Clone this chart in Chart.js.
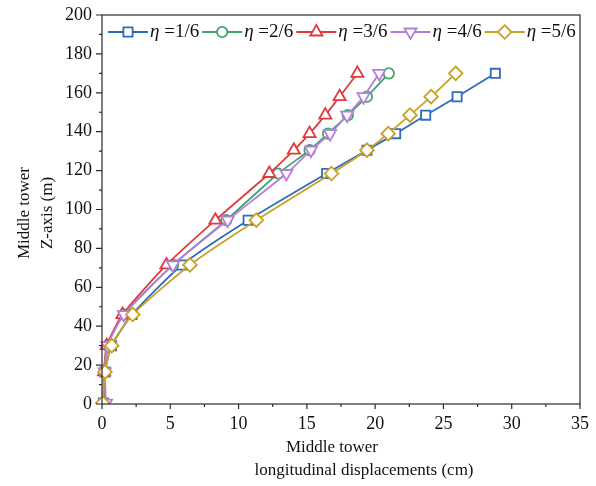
<!DOCTYPE html>
<html><head><meta charset="utf-8">
<script src="https://cdn.jsdelivr.net/npm/chart.js@4/dist/chart.umd.min.js"></script>
<style>html,body{margin:0;padding:0;background:#fff}#wrap{width:596px;height:486px;position:relative}</style>
</head><body><div id="wrap"><canvas id="c" width="596" height="486"></canvas></div>
<script>
// Heights along middle tower (m)
const zAxis = [0.5, 16.5, 30, 46, 71.5, 94.5, 118.5, 130.5, 139, 148.5, 158, 170];
// Longitudinal displacements (cm)
const eta16 = [0.1, 0.22, 0.7, 2.2, 5.85, 10.7, 16.45, 19.4, 21.5, 23.7, 26.0, 28.8];
const eta26 = [0.1, 0.2, 0.4, 1.6, 5.2, 9.1, 12.9, 15.2, 16.55, 18.0, 19.4, 21.0];
const eta36 = [0.1, 0.15, 0.35, 1.5, 4.72, 8.3, 12.25, 14.05, 15.2, 16.35, 17.4, 18.7];
const eta46 = [0.3, 0.2, 0.4, 1.6, 5.2, 9.2, 13.5, 15.3, 16.7, 17.95, 19.15, 20.3];
const eta56 = [0.05, 0.22, 0.71, 2.25, 6.44, 11.3, 16.8, 19.4, 20.96, 22.55, 24.1, 25.9];
const seriesNames = ['1/6', '2/6', '3/6', '4/6', '5/6'];
const seriesValues = [eta16, eta26, eta36, eta46, eta56];
const colors = ['#2f6db8', '#3fa56c', '#df3b3e', '#b47fdc', '#c9a125'];
const markers = ['rect', 'circle', 'triangle', 'triangle', 'rectRot'];
const rotations = [0, 0, 0, 180, 0];
const radii = [6.5, 5.2, 7, 7, 6.8];

const serif = '"Liberation Serif", "Times New Roman", serif';

const datasets = seriesValues.map((vals, i) => ({
  label: 'η =' + seriesNames[i],
  data: vals.map((x, k) => ({x: x, y: zAxis[k]})),
  order: seriesValues.length - 1 - i,
  showLine: true,
  borderColor: colors[i],
  borderWidth: 1.8,
  backgroundColor: '#ffffff',
  pointBackgroundColor: '#ffffff',
  pointBorderColor: colors[i],
  pointBorderWidth: 1.8,
  pointStyle: markers[i],
  pointRotation: rotations[i],
  pointRadius: radii[i],
  pointHoverRadius: radii[i],
  tension: 0.2,
  clip: { left: 10, top: 10, right: 10, bottom: 0 }
}));

function drawMarker(ctx, style, rot, r, x, y, color) {
  ctx.save();
  ctx.strokeStyle = color; ctx.fillStyle = '#fff'; ctx.lineWidth = 1.8;
  ctx.beginPath();
  if (style === 'rect') {
    const s = r * Math.SQRT1_2; ctx.rect(x - s, y - s, 2 * s, 2 * s);
  } else if (style === 'circle') {
    ctx.arc(x, y, r, 0, Math.PI * 2);
  } else if (style === 'triangle') {
    const a0 = (rot * Math.PI / 180) - Math.PI / 2;
    for (let k = 0; k < 3; k++) {
      const a = a0 + k * 2 * Math.PI / 3;
      const px = x + Math.cos(a) * r, py = y + Math.sin(a) * r;
      if (k === 0) ctx.moveTo(px, py); else ctx.lineTo(px, py);
    }
    ctx.closePath();
  } else if (style === 'rectRot') {
    ctx.moveTo(x, y - r); ctx.lineTo(x + r, y); ctx.lineTo(x, y + r); ctx.lineTo(x - r, y); ctx.closePath();
  }
  ctx.fill(); ctx.stroke();
  ctx.restore();
}

const decorPlugin = {
  id: 'decor',
  afterDraw(chart) {
    const ctx = chart.ctx, ca = chart.chartArea;
    const xs = chart.scales.x, ys = chart.scales.y;
    ctx.save();
    // frame
    ctx.strokeStyle = '#2a2a2a'; ctx.lineWidth = 1.2;
    ctx.strokeRect(ca.left, ca.top, ca.right - ca.left, ca.bottom - ca.top);
    // ticks (major longer than minor)
    ctx.beginPath();
    xs.ticks.forEach(t => {
      const px = xs.getPixelForValue(t.value);
      const major = Math.abs(t.value % 5) < 1e-6;
      ctx.moveTo(px, ca.bottom); ctx.lineTo(px, ca.bottom + (major ? 5 : 3));
    });
    ys.ticks.forEach(t => {
      const py = ys.getPixelForValue(t.value);
      const major = Math.abs(t.value % 20) < 1e-6;
      ctx.moveTo(ca.left, py); ctx.lineTo(ca.left - (major ? 6 : 3), py);
    });
    ctx.stroke();
    // axis titles
    ctx.fillStyle = '#111';
    ctx.font = '17px ' + serif;
    ctx.textAlign = 'center'; ctx.textBaseline = 'middle';
    ctx.fillText('Middle tower', ca.left + 230, ca.bottom + 44);
    ctx.fillText('longitudinal displacements (cm)', ca.left + 262, ca.bottom + 67);
    ctx.save();
    ctx.translate(25, 213); ctx.rotate(-Math.PI / 2);
    ctx.fillText('Middle tower', 0, 0);
    ctx.restore();
    ctx.save();
    ctx.translate(48, 213); ctx.rotate(-Math.PI / 2);
    ctx.fillText('Z-axis (m)', 0, 0);
    ctx.restore();
    // legend
    let x = ca.left + 6;
    const y = ca.top + 17;
    ctx.textBaseline = 'middle'; ctx.textAlign = 'left';
    chart.data.datasets.forEach((ds, i) => {
      ctx.strokeStyle = colors[i]; ctx.lineWidth = 1.8;
      ctx.beginPath(); ctx.moveTo(x, y); ctx.lineTo(x + 40, y); ctx.stroke();
      drawMarker(ctx, markers[i], rotations[i], radii[i], x + 20, y, colors[i]);
      x += 42;
      ctx.fillStyle = '#111';
      ctx.font = 'italic 19px ' + serif;
      ctx.fillText('η', x, y);
      x += ctx.measureText('η').width;
      ctx.font = '19px ' + serif;
      const rest = ' =' + seriesNames[i];
      ctx.fillText(rest, x, y);
      x += ctx.measureText(rest).width + 3;
    });
    ctx.restore();
  }
};

new Chart(document.getElementById('c'), {
  type: 'scatter',
  data: { datasets: datasets },
  options: {
    responsive: false,
    animation: false,
    layout: { padding: { left: 0, top: 15, right: 16, bottom: 0 } },
    plugins: { legend: { display: false }, tooltip: { enabled: false } },
    scales: {
      x: {
        type: 'linear', min: 0, max: 35,
        border: { display: false },
        grid: { display: true, drawOnChartArea: false, drawTicks: true, tickLength: 5, tickColor: 'rgba(0,0,0,0)' },
        ticks: { stepSize: 2.5, autoSkip: false, maxRotation: 0, padding: 4, color: '#111',
          font: { family: serif, size: 18 },
          callback: v => (Math.abs(v % 5) < 1e-6 ? String(v) : '') },
        afterFit: s => { s.height = 82; }
      },
      y: {
        type: 'linear', min: 0, max: 200,
        border: { display: false },
        grid: { display: true, drawOnChartArea: false, drawTicks: true, tickLength: 6, tickColor: 'rgba(0,0,0,0)' },
        ticks: { stepSize: 10, autoSkip: false, padding: 4, color: '#111',
          font: { family: serif, size: 18 },
          callback: v => (Math.abs(v % 20) < 1e-6 ? String(v) : '') },
        afterFit: s => { s.width = 102; }
      }
    }
  },
  plugins: [decorPlugin]
});
</script>
</body></html>
